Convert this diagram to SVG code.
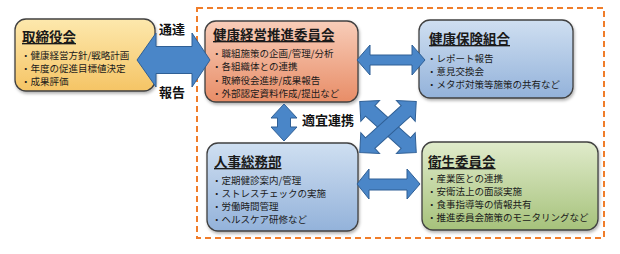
<svg xmlns="http://www.w3.org/2000/svg" width="620" height="254" viewBox="0 0 620 254">
<defs>
<linearGradient id="gY" x1="0" y1="0" x2="0" y2="1"><stop offset="0" stop-color="#fde8ad"/><stop offset="1" stop-color="#f5c465"/></linearGradient>
<linearGradient id="gR" x1="0" y1="0" x2="0" y2="1"><stop offset="0" stop-color="#f8cdb9"/><stop offset="1" stop-color="#e88d67"/></linearGradient>
<linearGradient id="gB" x1="0" y1="0" x2="0" y2="1"><stop offset="0" stop-color="#cfdff1"/><stop offset="1" stop-color="#93b2da"/></linearGradient>
<linearGradient id="gG" x1="0" y1="0" x2="0" y2="1"><stop offset="0" stop-color="#e0ebcb"/><stop offset="1" stop-color="#a6c27b"/></linearGradient>
<filter id="sh" x="-10%" y="-10%" width="120%" height="130%"><feDropShadow dx="1" dy="2" stdDeviation="1.5" flood-color="#000" flood-opacity="0.3"/></filter>
</defs>
<style>
.box{stroke:#404040;stroke-width:1.3;filter:url(#sh)}
.ttl{font-family:"Noto Sans CJK JP",sans-serif;font-size:13.5px;font-weight:bold;fill:#1a1a1a;text-decoration:underline}
.itm{font-family:"Noto Sans CJK JP",sans-serif;font-size:9.5px;fill:#1a1a1a}
.lbl{font-family:"Noto Sans CJK JP",sans-serif;font-size:13px;font-weight:bold;fill:#111}
.arr{fill:#4a86c8;stroke:#2f5f95;stroke-width:1}
</style>
<rect x="197" y="8" width="407" height="230" fill="none" stroke="#f07d2a" stroke-width="2" stroke-dasharray="6 4"/>

<g id="board">
<rect class="box" x="15" y="19" width="140" height="72" rx="11" fill="url(#gY)"/>
<text class="ttl" x="22" y="42">取締役会</text>
<text class="itm" x="21" y="58.5">・健康経営方針/戦略計画</text>
<text class="itm" x="21" y="71.5">・年度の促進目標値決定</text>
<text class="itm" x="21" y="84.5">・成果評価</text>
</g>

<g id="committee">
<rect class="box" x="205" y="21" width="153" height="81" rx="11" fill="url(#gR)"/>
<text class="ttl" x="213" y="40">健康経営推進委員会</text>
<text class="itm" x="212" y="56.5">・職組施策の企画/管理/分析</text>
<text class="itm" x="212" y="70">・各組織体との連携</text>
<text class="itm" x="212" y="83.5">・取締役会進捗/成果報告</text>
<text class="itm" x="212" y="97">・外部認定資料作成/提出など</text>
</g>

<g id="kenpo">
<rect class="box" x="419" y="20" width="154" height="78" rx="11" fill="url(#gB)"/>
<text class="ttl" x="429" y="44">健康保険組合</text>
<text class="itm" x="427" y="62">・レポート報告</text>
<text class="itm" x="427" y="75">・意見交換会</text>
<text class="itm" x="427" y="88">・メタボ対策等施策の共有など</text>
</g>

<g id="hr">
<rect class="box" x="207" y="143" width="151" height="88" rx="11" fill="url(#gB)"/>
<text class="ttl" x="214" y="167">人事総務部</text>
<text class="itm" x="212" y="183.5">・定期健診案内/管理</text>
<text class="itm" x="212" y="196.5">・ストレスチェックの実施</text>
<text class="itm" x="212" y="209.5">・労働時間管理</text>
<text class="itm" x="212" y="222.5">・ヘルスケア研修など</text>
</g>

<g id="eisei">
<rect class="box" x="422" y="142" width="176" height="88" rx="11" fill="url(#gG)"/>
<text class="ttl" x="428" y="167">衛生委員会</text>
<text class="itm" x="427" y="182">・産業医との連携</text>
<text class="itm" x="427" y="195">・安衛法上の面談実施</text>
<text class="itm" x="427" y="208">・食事指導等の情報共有</text>
<text class="itm" x="427" y="221">・推進委員会施策のモニタリングなど</text>
</g>

<g id="connectors">
<polygon class="arr" points="137,60 156,33 156,46.5 192,46.5 192,33 210,60 192,87 192,73.5 156,73.5 156,87"/>
<polygon class="arr" points="357,60 370,45 370,55 412,55 412,45 425,60 412,75 412,65 370,65 370,75"/>
<polygon class="arr" points="284,104 297,118 290.5,118 290.5,127 297,127 284,141 271,127 277.5,127 277.5,118 271,118"/>
<polygon class="arr" points="357,184 369,169 369,179 407,179 407,169 420,184 407,199 407,190 369,190 369,199"/>
<g transform="translate(388,127) rotate(42)">
<polygon class="arr" points="-38,0 -24,-14 -24,-7 24,-7 24,-14 38,0 24,14 24,7 -24,7 -24,14"/>
</g>
<g transform="translate(388,127) rotate(-42)">
<polygon class="arr" points="-38,0 -24,-14 -24,-7 24,-7 24,-14 38,0 24,14 24,7 -24,7 -24,14"/>
</g>
<text class="lbl" x="159" y="34">通達</text>
<text class="lbl" x="159" y="97">報告</text>
<text class="lbl" x="302" y="125">適宜連携</text>
</g>
</svg>
